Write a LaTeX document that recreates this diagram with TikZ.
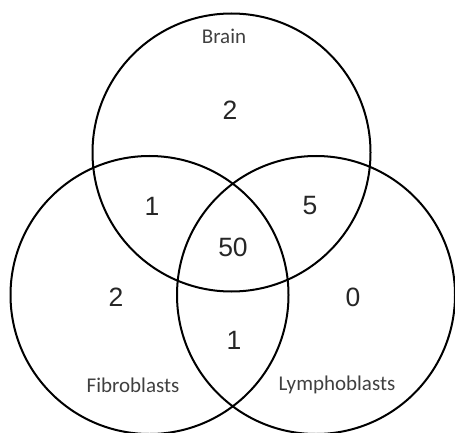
\documentclass[tikz,border=0pt]{standalone}
\usepackage{fontspec}
\setmainfont{Liberation Sans}
\newfontfamily\labelfont{Carlito}
\begin{document}
\begin{tikzpicture}[x=1pt,y=-1pt,
  setcircle/.style={draw=black,line width=2pt,circle,minimum size=278pt,inner sep=0pt},
  num/.style={font=\fontsize{26.5}{26.5}\selectfont,text=black!85},
  setlabel/.style={font=\labelfont\fontsize{21}{21}\selectfont,text=black!75}]
\useasboundingbox (0,0) rectangle (455,433);
\node[setcircle] (brain) at (231.5,152.5) {};
\node[setcircle] (fibro) at (149.5,295) {};
\node[setcircle] (lympho) at (316,295) {};
\node[setlabel] (lbrain) at (224,36) {Brain};
\node[setlabel] (lfibro) at (133,385) {Fibroblasts};
\node[setlabel] (llympho) at (337,385) {Lymphoblasts};
\node[num] (nb) at (230,110) {2};
\node[num] (nbf) at (152,206) {1};
\node[num] (nbl) at (310,206) {5};
\node[num] (nall) at (233,247) {50};
\node[num] (nf) at (116,297) {2};
\node[num] (nl) at (353,297) {0};
\node[num] (nfl) at (234,340) {1};
\end{tikzpicture}
\end{document}
